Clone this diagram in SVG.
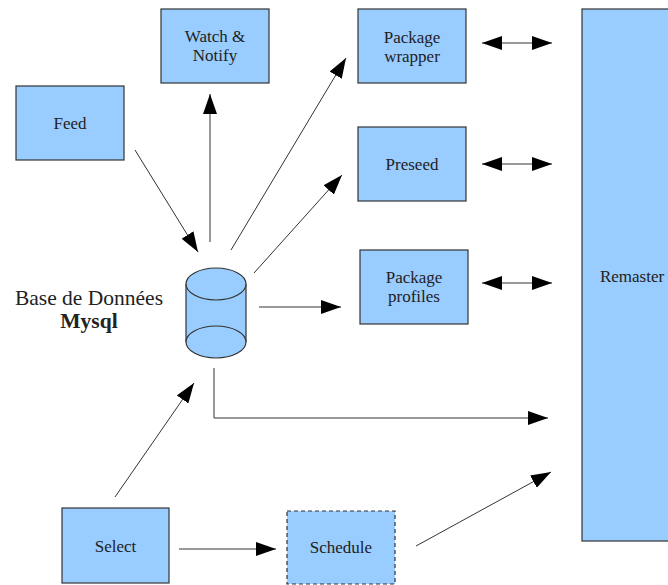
<svg xmlns="http://www.w3.org/2000/svg" width="668" height="585" viewBox="0 0 668 585">
<style>
.box{fill:#99ccff;stroke:#333;stroke-width:1.2}
.dash{stroke-dasharray:4,3}
.t{font-family:"Liberation Serif",serif;font-size:17px;fill:#222;text-anchor:middle}
.lbl{font-family:"Liberation Serif",serif;font-size:21.5px;fill:#222;text-anchor:middle}
.c{fill:none;stroke:#333;stroke-width:1}
</style>
<defs>
<marker id="ah" markerUnits="userSpaceOnUse" markerWidth="20" markerHeight="14" refX="20" refY="7" orient="auto-start-reverse">
<path d="M0,0 L20,7 L0,14 z" fill="#000"/>
</marker>
</defs>
<rect width="668" height="585" fill="#fff"/>
<g id="connectors">
<line class="c" x1="135" y1="150" x2="198" y2="252" marker-end="url(#ah)"/>
<line class="c" x1="210" y1="242" x2="210" y2="94" marker-end="url(#ah)"/>
<line class="c" x1="231" y1="250" x2="346" y2="58" marker-end="url(#ah)"/>
<line class="c" x1="254" y1="273" x2="342" y2="175" marker-end="url(#ah)"/>
<line class="c" x1="259" y1="307" x2="341" y2="307" marker-end="url(#ah)"/>
<line class="c" x1="482" y1="43" x2="552" y2="43" marker-start="url(#ah)" marker-end="url(#ah)"/>
<line class="c" x1="482" y1="164" x2="552" y2="164" marker-start="url(#ah)" marker-end="url(#ah)"/>
<line class="c" x1="482" y1="283" x2="552" y2="283" marker-start="url(#ah)" marker-end="url(#ah)"/>
<polyline class="c" points="214,368 214,418 548,418" marker-end="url(#ah)"/>
<line class="c" x1="115" y1="497" x2="194" y2="383" marker-end="url(#ah)"/>
<line class="c" x1="179" y1="549" x2="276" y2="549" marker-end="url(#ah)"/>
<line class="c" x1="416" y1="546" x2="551" y2="472" marker-end="url(#ah)"/>
</g>
<g id="watch">
<rect class="box" x="161" y="9" width="108" height="74"/>
<text class="t" x="215" y="42">Watch &amp;</text>
<text class="t" x="215" y="61">Notify</text>
</g>
<g id="feed">
<rect class="box" x="16" y="86" width="108" height="74"/>
<text class="t" x="70" y="129">Feed</text>
</g>
<g id="wrapper">
<rect class="box" x="358" y="9" width="108" height="74"/>
<text class="t" x="412" y="43">Package</text>
<text class="t" x="412" y="62">wrapper</text>
</g>
<g id="preseed">
<rect class="box" x="358" y="127" width="108" height="74"/>
<text class="t" x="412" y="170">Preseed</text>
</g>
<g id="profiles">
<rect class="box" x="360" y="250" width="108" height="74"/>
<text class="t" x="414" y="283">Package</text>
<text class="t" x="414" y="302">profiles</text>
</g>
<g id="remaster">
<rect class="box" x="582" y="9" width="100" height="532"/>
<text class="t" x="632" y="282">Remaster</text>
</g>
<g id="db">
<path class="box" d="M186,284 L186,342 A30,16 0 0 0 246,342 L246,284"/>
<ellipse class="box" cx="216" cy="284" rx="30" ry="16"/>
<path class="box" d="M186,342 A30,16 0 0 1 246,342" fill="none"/>
<text class="lbl" x="89" y="305">Base de Données</text>
<text class="lbl" x="89" y="328" font-weight="bold">Mysql</text>
</g>
<g id="select">
<rect class="box" x="62" y="508" width="107" height="75"/>
<text class="t" x="115.5" y="552">Select</text>
</g>
<g id="schedule">
<rect class="box dash" x="287" y="511" width="108" height="73"/>
<text class="t" x="341" y="553">Schedule</text>
</g>
</svg>
